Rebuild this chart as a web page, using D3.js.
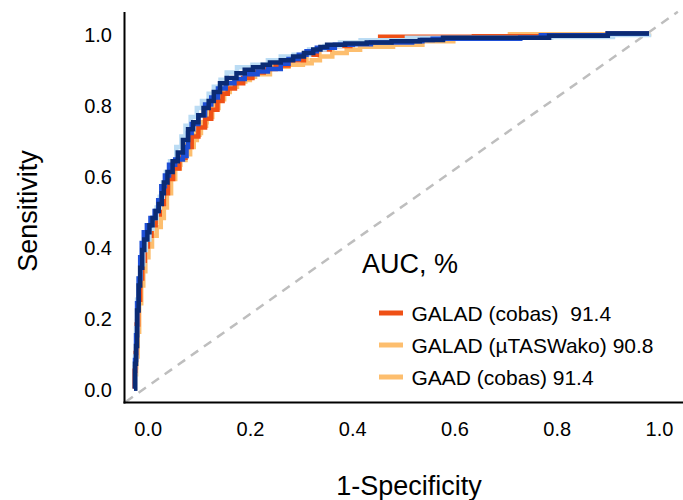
<!DOCTYPE html>
<html>
<head>
<meta charset="utf-8">
<script src="https://cdn.jsdelivr.net/npm/d3@7"></script>
<style>
  html, body { margin: 0; padding: 0; background: #fff; }
  svg { display: block; font-family: "Liberation Sans", Arial, Helvetica, sans-serif; }
</style>
</head>
<body>
<svg id="chart" width="683" height="500"></svg>
<script>
// ---------- data ----------
const xTicks = [0, 0.2, 0.4, 0.6, 0.8, 1.0];
const yTicks = [0, 0.2, 0.4, 0.6, 0.8, 1.0];

const seriesNames = ["GALAD (cobas)", "GALAD (\u00B5TASWako)", "GAAD (cobas)"];
const seriesAUC = ["91.4", "90.8", "91.4"];
const legendLabels = ["GALAD (cobas)  91.4", "GALAD (\u00B5TASWako) 90.8", "GAAD (cobas) 91.4"];

// ROC points: [1-specificity, sensitivity]
const galadCobas = [[0,0],[0.001,0.05],[0.003,0.10],[0.005,0.18],[0.008,0.25],[0.012,0.31],[0.016,0.36],[0.021,0.40],[0.027,0.43],[0.034,0.46],[0.042,0.49],[0.050,0.52],[0.058,0.55],[0.066,0.59],[0.076,0.62],[0.088,0.65],[0.100,0.68],[0.112,0.71],[0.125,0.735],[0.138,0.76],[0.150,0.785],[0.162,0.81],[0.172,0.83],[0.182,0.845],[0.196,0.86],[0.212,0.875],[0.230,0.89],[0.252,0.90],[0.275,0.91],[0.300,0.925],[0.330,0.94],[0.355,0.955],[0.380,0.965],[0.420,0.972],[0.450,0.978],[0.478,0.991],[0.660,0.992],[0.800,0.995],[0.920,1.0],[1.0,1.0]];

const galadWako = [[0,0],[0.002,0.04],[0.004,0.09],[0.007,0.16],[0.010,0.24],[0.014,0.29],[0.018,0.33],[0.022,0.37],[0.028,0.40],[0.035,0.43],[0.044,0.455],[0.052,0.48],[0.058,0.51],[0.064,0.55],[0.072,0.59],[0.080,0.62],[0.089,0.644],[0.100,0.66],[0.109,0.68],[0.116,0.70],[0.122,0.72],[0.130,0.75],[0.141,0.80],[0.155,0.815],[0.167,0.83],[0.182,0.85],[0.199,0.869],[0.225,0.885],[0.264,0.906],[0.300,0.912],[0.328,0.916],[0.345,0.925],[0.361,0.935],[0.385,0.945],[0.413,0.954],[0.439,0.963],[0.503,0.968],[0.560,0.978],[0.620,0.985],[0.730,0.998],[0.800,0.998],[1.0,1.0]];

const gaadCobas = [[0,0],[0.002,0.06],[0.004,0.11],[0.006,0.19],[0.009,0.26],[0.013,0.32],[0.017,0.37],[0.022,0.41],[0.028,0.44],[0.035,0.47],[0.043,0.50],[0.051,0.53],[0.059,0.56],[0.068,0.60],[0.078,0.63],[0.090,0.655],[0.102,0.685],[0.114,0.715],[0.127,0.74],[0.140,0.765],[0.152,0.79],[0.164,0.815],[0.175,0.835],[0.186,0.85],[0.200,0.865],[0.216,0.878],[0.235,0.892],[0.258,0.902],[0.280,0.912],[0.305,0.928],[0.335,0.942],[0.360,0.957],[0.385,0.966],[0.425,0.973],[0.470,0.980],[0.520,0.988],[0.700,0.992],[0.850,0.996],[0.930,1.0],[1.0,1.0]];

const blueLight = [[0,0],[0.002,0.09],[0.004,0.17],[0.006,0.25],[0.009,0.31],[0.013,0.35],[0.018,0.39],[0.023,0.42],[0.030,0.45],[0.036,0.48],[0.044,0.51],[0.050,0.54],[0.056,0.58],[0.062,0.61],[0.070,0.64],[0.082,0.68],[0.092,0.71],[0.100,0.74],[0.110,0.765],[0.122,0.79],[0.132,0.81],[0.145,0.83],[0.155,0.85],[0.168,0.87],[0.180,0.89],[0.200,0.905],[0.230,0.912],[0.260,0.925],[0.285,0.935],[0.310,0.94],[0.340,0.955],[0.370,0.965],[0.400,0.975],[0.440,0.981],[0.530,0.988],[0.590,0.988],[0.810,0.990],[0.930,0.996],[1.0,1.0]];

const blueMid = [[0,0],[0.002,0.08],[0.004,0.15],[0.006,0.24],[0.009,0.31],[0.012,0.37],[0.015,0.41],[0.019,0.44],[0.025,0.46],[0.032,0.48],[0.040,0.50],[0.047,0.53],[0.053,0.57],[0.060,0.60],[0.068,0.63],[0.080,0.645],[0.095,0.655],[0.102,0.68],[0.105,0.72],[0.112,0.745],[0.125,0.77],[0.138,0.80],[0.150,0.82],[0.163,0.845],[0.178,0.86],[0.195,0.872],[0.215,0.885],[0.240,0.893],[0.260,0.90],[0.285,0.915],[0.300,0.928],[0.320,0.94],[0.335,0.95],[0.355,0.96],[0.390,0.968],[0.425,0.97],[0.460,0.975],[0.540,0.978],[0.560,0.982],[0.580,0.985],[0.750,0.988],[0.790,0.995],[0.920,1.0],[1.0,1.0]];

const navy = [[0,0],[0.002,0.07],[0.004,0.12],[0.006,0.22],[0.009,0.29],[0.012,0.34],[0.016,0.39],[0.020,0.42],[0.026,0.44],[0.030,0.46],[0.036,0.48],[0.042,0.50],[0.048,0.52],[0.054,0.55],[0.058,0.58],[0.065,0.61],[0.075,0.64],[0.085,0.665],[0.095,0.70],[0.105,0.73],[0.115,0.75],[0.125,0.77],[0.135,0.79],[0.145,0.81],[0.155,0.835],[0.167,0.86],[0.180,0.875],[0.199,0.888],[0.215,0.898],[0.231,0.905],[0.250,0.912],[0.264,0.918],[0.285,0.925],[0.309,0.935],[0.330,0.945],[0.348,0.955],[0.362,0.962],[0.375,0.968],[0.410,0.972],[0.452,0.975],[0.500,0.978],[0.555,0.982],[0.600,0.988],[0.806,0.994],[0.920,1.0],[1.0,1.0]];

const diagonal = [[-0.0165,-0.038],[1.056,1.061]];

const curveColors = {
  gaad: "#FDBE6E", wako: "#FDBE6E", cobas: "#EF5016",
  light: "#BBDCF4", mid: "#1E4FD6", navy: "#0B2B74"
};
const legendColors = ["#EF5016", "#FDBE6E", "#FDBE6E"];

// ---------- drawing ----------
const svg = d3.select("#chart");
const x = d3.scaleLinear().domain([0, 1]).range([134, 649]);
const y = d3.scaleLinear().domain([0, 1]).range([388.5, 33.5]);
const xLab = d3.scaleLinear().domain([0, 1]).range([147.7, 659]);

// diagonal reference
const lineLin = d3.line().x(d => x(d[0])).y(d => y(d[1]));
svg.append("path").datum(diagonal).attr("d", lineLin)
  .attr("fill", "none").attr("stroke", "#BEBEBE")
  .attr("stroke-width", 2.5).attr("stroke-dasharray", "9,7");

// curves
const stepLine = d3.line().x(d => x(d[0])).y(d => y(d[1])).curve(d3.curveStepAfter);
const curves = [
  [gaadCobas, curveColors.gaad],
  [galadWako, curveColors.wako],
  [galadCobas, curveColors.cobas],
  [blueLight, curveColors.light],
  [blueMid, curveColors.mid],
  [navy, curveColors.navy]
];
curves.forEach(([data, color]) => {
  svg.append("path").datum(data).attr("d", stepLine)
    .attr("fill", "none").attr("stroke", color)
    .attr("stroke-width", 4.5).attr("stroke-linejoin", "miter").attr("stroke-linecap", "butt");
});

// axis lines
svg.append("line").attr("x1", 124.5).attr("x2", 124.5).attr("y1", 12).attr("y2", 403.5)
  .attr("stroke", "#000").attr("stroke-width", 2);
svg.append("line").attr("x1", 123.5).attr("x2", 683).attr("y1", 402.5).attr("y2", 402.5)
  .attr("stroke", "#000").attr("stroke-width", 2);

// tick labels
const fmt = d3.format(".1f");
const gx = svg.append("g").attr("transform", "translate(0,403)")
  .call(d3.axisBottom(xLab).tickValues(xTicks).tickFormat(fmt).tickSize(0).tickPadding(18.8));
gx.select(".domain").remove();
gx.selectAll("text").attr("font-size", 20).attr("fill", "#000")
  .style("font-family", "'Liberation Sans', Arial, sans-serif");

const gy = svg.append("g").attr("transform", "translate(124.5,0)")
  .call(d3.axisLeft(y).tickValues(yTicks).tickFormat(fmt).tickSize(0).tickPadding(12.5));
gy.select(".domain").remove();
gy.selectAll("text").attr("font-size", 20).attr("fill", "#000").attr("dy", "0.4em")
  .style("font-family", "'Liberation Sans', Arial, sans-serif");

// axis titles
svg.append("text").attr("x", 409).attr("y", 495).attr("text-anchor", "middle")
  .attr("font-size", 27).attr("fill", "#000").text("1-Specificity");
svg.append("text").attr("transform", "translate(37,211) rotate(-90)").attr("text-anchor", "middle")
  .attr("font-size", 27).attr("fill", "#000").text("Sensitivity");

// legend
svg.append("text").attr("x", 362).attr("y", 273).attr("font-size", 27).attr("fill", "#000").text("AUC, %");
const rowY = [313, 345, 377];
legendLabels.forEach((lab, i) => {
  svg.append("line").attr("x1", 379).attr("x2", 403).attr("y1", rowY[i]).attr("y2", rowY[i])
    .attr("stroke", legendColors[i]).attr("stroke-width", 5);
  svg.append("text").attr("x", 411.5).attr("y", rowY[i] + 7.5)
    .attr("font-size", 21).attr("fill", "#000").style("white-space", "pre").text(lab);
});
</script>
</body>
</html>
